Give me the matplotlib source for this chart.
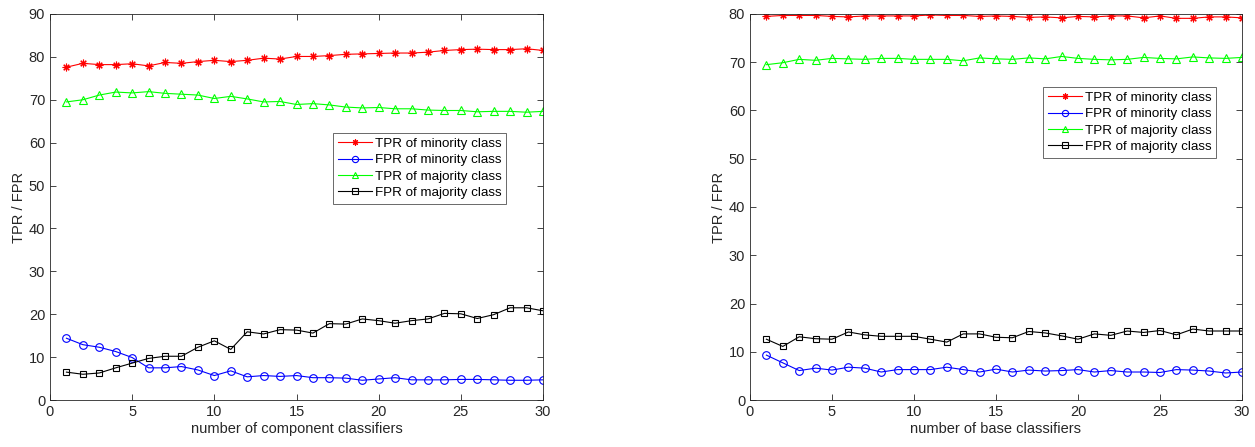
import matplotlib
matplotlib.use("Agg")
import matplotlib.pyplot as plt
import numpy as np

plt.rcParams['font.family'] = ['Liberation Sans', 'DejaVu Sans']

x = list(range(1, 31))

# Left chart: number of component classifiers
left_tpr_min = [77.6, 78.5, 78.2, 78.2, 78.4, 77.9, 78.7, 78.5, 78.9, 79.2,
                78.9, 79.2, 79.7, 79.5, 80.1, 80.1, 80.3, 80.6, 80.7, 80.8,
                80.9, 80.9, 81.1, 81.5, 81.7, 81.8, 81.7, 81.7, 81.9, 81.5]
left_fpr_min = [14.4, 12.9, 12.3, 11.3, 9.9, 7.5, 7.5, 7.8, 7.0, 5.7,
                6.8, 5.4, 5.7, 5.5, 5.7, 5.2, 5.2, 5.1, 4.6, 4.9,
                5.2, 4.7, 4.7, 4.7, 4.8, 4.8, 4.7, 4.6, 4.6, 4.7]
left_tpr_maj = [69.5, 70.0, 71.1, 71.8, 71.6, 71.9, 71.5, 71.3, 71.1, 70.3,
                70.8, 70.2, 69.5, 69.6, 68.9, 69.1, 68.8, 68.3, 68.1, 68.2,
                67.9, 67.9, 67.6, 67.5, 67.5, 67.2, 67.3, 67.3, 67.1, 67.3]
left_fpr_maj = [6.5, 6.0, 6.3, 7.5, 8.6, 9.7, 10.2, 10.2, 12.3, 13.8,
                11.8, 15.9, 15.4, 16.4, 16.3, 15.6, 17.8, 17.7, 18.9, 18.5,
                17.9, 18.5, 18.9, 20.2, 20.1, 19.0, 19.9, 21.5, 21.5, 20.8]

# Right chart: number of base classifiers
right_tpr_min = [79.5, 79.7, 79.7, 79.7, 79.5, 79.4, 79.6, 79.6, 79.6, 79.6,
                 79.8, 79.7, 79.7, 79.5, 79.6, 79.5, 79.3, 79.4, 79.2, 79.5,
                 79.4, 79.6, 79.6, 79.2, 79.6, 79.1, 79.1, 79.4, 79.4, 79.2]
right_fpr_min = [9.3, 7.7, 6.1, 6.6, 6.2, 6.8, 6.6, 5.8, 6.3, 6.3,
                 6.3, 6.8, 6.3, 5.8, 6.4, 5.8, 6.2, 6.0, 6.1, 6.3,
                 5.8, 6.1, 5.8, 5.8, 5.7, 6.3, 6.2, 6.0, 5.6, 5.8]
right_tpr_maj = [69.5, 69.9, 70.6, 70.4, 70.8, 70.7, 70.6, 70.8, 70.8, 70.6,
                 70.6, 70.6, 70.3, 70.9, 70.7, 70.6, 70.9, 70.7, 71.2, 70.8,
                 70.6, 70.5, 70.6, 71.0, 70.8, 70.7, 71.1, 70.9, 70.8, 71.0]
right_fpr_maj = [12.6, 11.1, 13.1, 12.7, 12.6, 14.1, 13.5, 13.2, 13.2, 13.2,
                 12.6, 12.0, 13.7, 13.7, 13.0, 12.9, 14.2, 13.9, 13.3, 12.6,
                 13.7, 13.4, 14.3, 14.0, 14.4, 13.5, 14.7, 14.3, 14.3, 14.3]

labels = ['TPR of minority class', 'FPR of minority class',
          'TPR of majority class', 'FPR of majority class']
xlabels = ['number of component classifiers', 'number of base classifiers']

fig = plt.figure(figsize=(12.55, 4.47), dpi=100)
ax1 = fig.add_axes([50/1255, 1-400/447, (543-50)/1255, (400-14)/447])
ax2 = fig.add_axes([750/1255, 1-400/447, (1242-750)/1255, (400-14)/447])

axcol = '#262626'

def draw(ax, series, xlabel, ylim, yticks, legend_anchor):
    styles = [dict(color='#ff0000', marker=(8, 2, 0), ms=5.5, mew=0.8),
              dict(color='#0000ff', marker='o', ms=5.5, mfc='none', mew=0.8),
              dict(color='#00ff00', marker='^', ms=6, mfc='none', mew=0.8),
              dict(color='#000000', marker='s', ms=4.5, mfc='none', mew=0.8)]
    for s, lab, st in zip(series, labels, styles):
        ax.plot(x, s, lw=0.8, label=lab, **st)
    ax.set_xlim(0, 30)
    ax.set_ylim(*ylim)
    ax.set_xticks([0, 5, 10, 15, 20, 25, 30])
    ax.set_yticks(yticks)
    ax.tick_params(direction='in', top=True, right=True, labelsize=10.5,
                   colors=axcol, length=4, width=0.6)
    for sp in ax.spines.values():
        sp.set_color(axcol)
        sp.set_linewidth(0.6)
    ax.set_xlabel(xlabel, fontsize=10.5, color=axcol, labelpad=2)
    ax.set_ylabel('TPR / FPR', fontsize=10.5, color=axcol, labelpad=2)
    leg = ax.legend(loc='upper left', bbox_to_anchor=legend_anchor,
                    fontsize=9.6, frameon=True, fancybox=False,
                    edgecolor=axcol, handlelength=2.6, handletextpad=0.2,
                    borderpad=0.35, labelspacing=0.3, borderaxespad=0)
    leg.get_frame().set_linewidth(0.6)
    for h in leg.legend_handles:
        h.set_markersize(4.5)

draw(ax1, [left_tpr_min, left_fpr_min, left_tpr_maj, left_fpr_maj], xlabels[0],
     (0, 90), list(range(0, 91, 10)),
     ((333-50)/(543-50), (400-133)/(400-14)))
draw(ax2, [right_tpr_min, right_fpr_min, right_tpr_maj, right_fpr_maj], xlabels[1],
     (0, 80), list(range(0, 81, 10)),
     ((1043-750)/(1242-750), (400-87)/(400-14)))

fig.savefig('out.png', dpi=100)
